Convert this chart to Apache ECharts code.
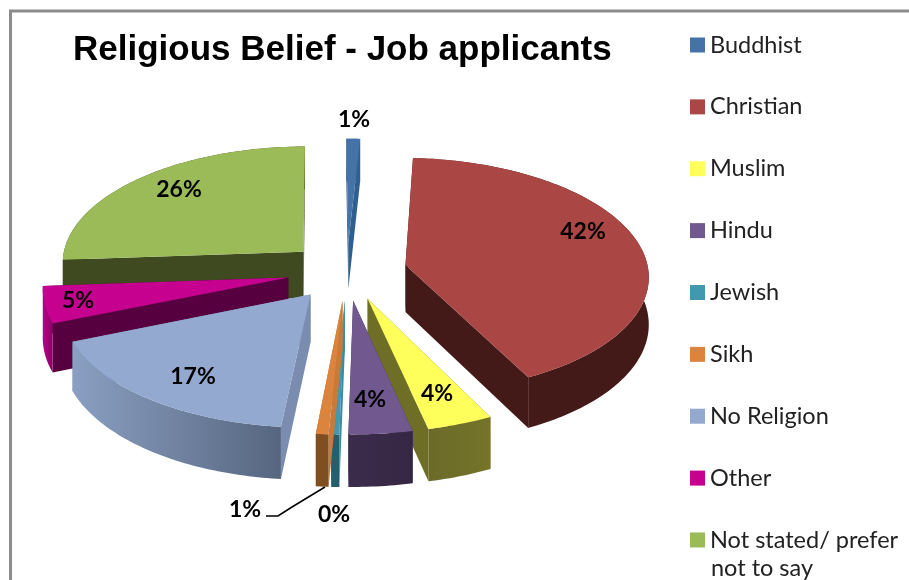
<!DOCTYPE html>
<html>
<head>
<meta charset="utf-8">
<style>
html, body { margin: 0; padding: 0; background: #fff; }
#chart { width: 909px; height: 580px; }
</style>
<script src="https://cdn.jsdelivr.net/npm/echarts@6/dist/echarts.min.js"></script>
</head>
<body>
<div id="chart"></div>
<script>
// data
var categories = ['Buddhist', 'Christian', 'Muslim', 'Hindu', 'Jewish', 'Sikh', 'No Religion', 'Other', 'Not stated/ prefer not to say']
var shares = [1, 41.7, 3.95, 3.8, 0.48, 0.75, 17.32, 5, 26]

// colours: top face, side wall gradient left/right, cut face
var topColors = ['#4573a7', '#aa4644', '#ffff5c', '#71588f', '#4298af', '#db843d', '#93a9cf', '#c6008f', '#9bbb59']
var wallLeft = ['#3a6aa0', '#431a17', '#6b6a28', '#3c2c4c', '#265f6c', '#7f4f22', '#8a9fc2', '#b8008a', '#3f4a20']
var wallRight = ['#2f5f90', '#431a17', '#75742a', '#352744', '#265f6c', '#7f4f22', '#56667f', '#8c0068', '#3f4a20']
var cutColors = ['#2f5f90', '#431a17', '#6e6e26', '#3c2c4c', '#3a8aa0', '#c97a38', '#7a8db0', '#570040', '#3f4a20']

// back to front, so nearer slices paint over farther ones
var drawOrder = [0, 8, 7, 6, 1, 2, 3, 4, 5]
var labelAt = [[354, 120], [583, 232], [437, 394], [370, 400], [334, 515], [245, 510], [193, 377], [78, 301], [179, 190]]

var pie = { cx: 347, cy: 271, r: 243, squash: 0.4826, persp: 0.085, depth: 47, explode: 60, start: -0.5 }

var total = shares.reduce(function (a, b) { return a + b }, 0)

function projectSlice(deg, radius, down, off) {
    var rad = deg * Math.PI / 180
    var u = Math.sin(rad) * radius + off.u
    var v = Math.cos(rad) * radius + off.v
    var s = 1 / (1 + pie.persp * v / pie.r)
    return [pie.cx + u * s, pie.cy - v * pie.squash * s + down * s]
}

function renderSlice(index) {
    return function (params, api) {
        var before = 0
        for (var i = 0; i < index; i++) {
            before += shares[i]
        }
        var from = pie.start + before / total * 360
        var to = from + api.value(0) / total * 360
        var mid = (from + to) / 2 * Math.PI / 180
        // push the slice outward along its middle angle, in the plane of the pie
        var off = { u: Math.sin(mid) * pie.explode, v: Math.cos(mid) * pie.explode }

        var tipTop = projectSlice(0, 0, 0, off)
        var tipLow = projectSlice(0, 0, pie.depth, off)
        var arcTop = []
        var arcLow = []
        var steps = Math.max(2, Math.ceil(to - from))
        for (var k = 0; k <= steps; k++) {
            var a = from + (to - from) * k / steps
            arcTop.push(projectSlice(a, pie.r, 0, off))
            arcLow.push(projectSlice(a, pie.r, pie.depth, off))
        }
        var last = arcTop.length - 1

        var wallFill = new echarts.graphic.LinearGradient(0, 0, 1, 0, [
            { offset: 0, color: wallLeft[index] },
            { offset: 1, color: wallRight[index] }
        ])

        return {
            type: 'group',
            children: [
                { type: 'polygon', shape: { points: [tipTop, arcTop[0], arcLow[0], tipLow] }, style: { fill: cutColors[index] } },
                { type: 'polygon', shape: { points: [tipTop, arcTop[last], arcLow[last], tipLow] }, style: { fill: cutColors[index] } },
                { type: 'polygon', shape: { points: arcTop.concat(arcLow.slice().reverse()) }, style: { fill: wallFill } },
                { type: 'polygon', shape: { points: [tipTop].concat(arcTop) }, style: { fill: topColors[index] } },
                {
                    type: 'text',
                    x: labelAt[index][0],
                    y: labelAt[index][1],
                    style: {
                        text: Math.round(api.value(0) / total * 100) + '%',
                        font: 'bold 23px Lato',
                        fill: '#000',
                        align: 'center',
                        verticalAlign: 'middle'
                    }
                }
            ]
        }
    }
}

var series = categories.map(function (name, i) {
    return {
        name: name,
        type: 'custom',
        coordinateSystem: 'none',
        z: 2 + drawOrder.indexOf(i),
        silent: true,
        animation: false,
        itemStyle: { color: topColors[i] },
        renderItem: renderSlice(i),
        data: [[shares[i]]]
    }
})

var option = {
    animation: false,
    backgroundColor: '#fff',
    title: {
        text: 'Religious Belief - Job applicants',
        left: 68,
        top: 28,
        textStyle: { fontFamily: 'Liberation Sans', fontWeight: 'bold', fontSize: 35, color: '#000' }
    },
    legend: {
        data: categories,
        orient: 'vertical',
        left: 685,
        top: 26,
        itemWidth: 15,
        itemHeight: 15,
        itemGap: 33.87,
        selectedMode: false,
        icon: 'rect',
        formatter: function (name) {
            return name.replace(' not to say', '')
        },
        textStyle: { fontFamily: 'Lato', fontSize: 23.5, color: '#222', lineHeight: 28 }
    },
    graphic: [
        {
            type: 'polyline',
            silent: true,
            shape: { points: [[10.5, 580], [10.5, 11], [909, 11]] },
            style: { stroke: '#8c8c8c', lineWidth: 3, fill: null }
        },
        {
            type: 'polyline',
            silent: true,
            shape: { points: [[266, 516], [278, 516], [292, 507], [325, 487]] },
            style: { stroke: '#000', lineWidth: 1.5, fill: null }
        },
        {
            type: 'text',
            silent: true,
            x: 711,
            y: 568,
            style: { text: 'not to say', font: '23.5px Lato', fill: '#222', verticalAlign: 'middle' }
        }
    ],
    series: series
}

var myChart = echarts.init(document.getElementById('chart'))
myChart.setOption(option)
</script>
</body>
</html>
